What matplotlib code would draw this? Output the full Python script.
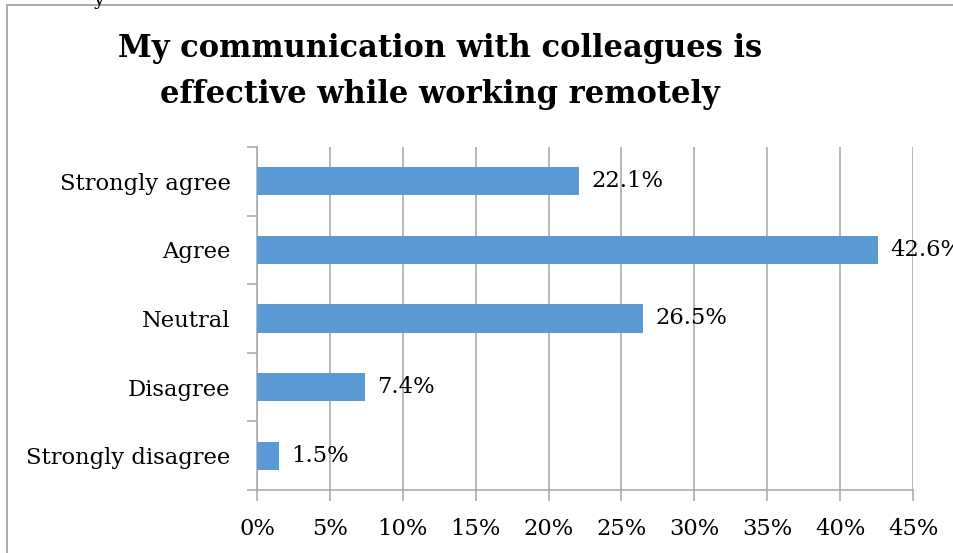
import matplotlib.pyplot as plt
from matplotlib.patches import Rectangle

categories = ["Strongly agree", "Agree", "Neutral", "Disagree", "Strongly disagree"]
values = [22.1, 42.6, 26.5, 7.4, 1.5]
value_labels = ["22.1%", "42.6%", "26.5%", "7.4%", "1.5%"]
xticks = [0, 5, 10, 15, 20, 25, 30, 35, 40, 45]

plt.rcParams['font.family'] = ['DejaVu Serif']
grey = "#a6a6a6"
fs = 16.3

fig = plt.figure(figsize=(9.54, 5.53), dpi=100)

# frame of the chart area (extends past the right and bottom edges)
fig.patches.append(Rectangle((7 / 954, -0.1), 1.2, 1.1 - 4.5 / 553,
                             transform=fig.transFigure, fill=False,
                             edgecolor=grey, linewidth=1.3))
fig.text(0.098, 1.0, "y", fontsize=14, ha="left", va="center")

ax = fig.add_axes([257 / 954, 1 - 490 / 553, 656 / 954, 343 / 553])

pos = list(range(len(categories)))[::-1]
ax.barh(pos, values, height=0.41, color="#5b9bd5", zorder=3)
for p, v, lab in zip(pos, values, value_labels):
    ax.text(v + 0.85, p, lab, va="center", ha="left", fontsize=fs, zorder=4)

ax.set_xlim(0, 45)
ax.set_ylim(-0.5, 4.5)
ax.set_xticks(xticks)
ax.set_xticklabels([f"{t}%" for t in xticks], fontsize=fs)
ax.set_yticks(pos)
ax.set_yticklabels(categories, fontsize=fs)
ax.set_yticks([p - 0.5 for p in range(6)], minor=True)

ax.grid(axis="x", color=grey, linewidth=1.1, zorder=0)
for s in ["top", "right"]:
    ax.spines[s].set_visible(False)
for s in ["left", "bottom"]:
    ax.spines[s].set_color(grey)
    ax.spines[s].set_linewidth(1.1)
ax.tick_params(axis="x", length=8, width=1.1, color=grey, pad=12)
ax.tick_params(axis="y", which="major", length=0, pad=19)
ax.tick_params(axis="y", which="minor", length=7, width=1.1, color=grey)

fig.text(440 / 954, 1 - 48 / 553, "My communication with colleagues is",
         ha="center", va="center", fontsize=22, fontweight="bold")
fig.text(440 / 954, 1 - 95 / 553, "effective while working remotely",
         ha="center", va="center", fontsize=22, fontweight="bold")

fig.savefig("out.png", dpi=100)
